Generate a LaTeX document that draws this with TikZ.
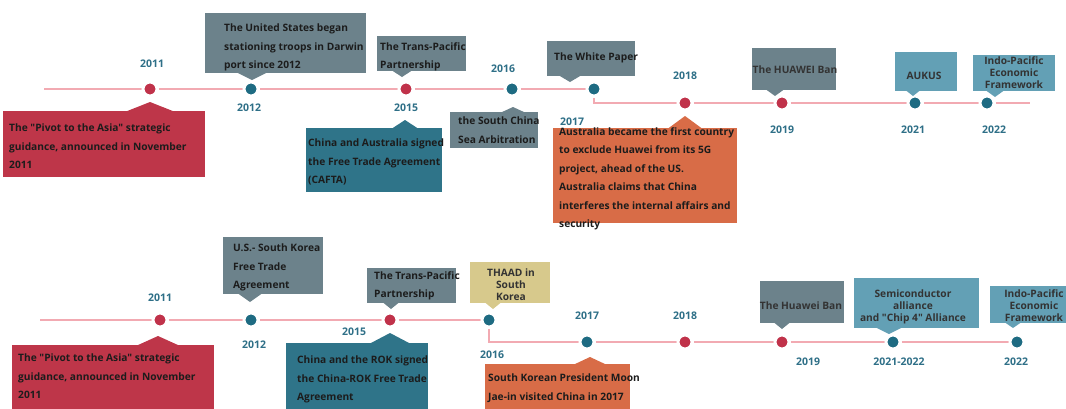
\documentclass[tikz,border=0pt]{standalone}
\usepackage{fontspec}
\newfontfamily\lblfont{Open Sans}
\usetikzlibrary{backgrounds}

\definecolor{boxRed}{HTML}{BE3649}
\definecolor{boxTeal}{HTML}{2F7489}
\definecolor{boxGrey}{HTML}{6C828B}
\definecolor{boxBlue}{HTML}{63A0B5}
\definecolor{boxKhaki}{HTML}{D7C98C}
\definecolor{boxOrange}{HTML}{D86C47}
\definecolor{dotRed}{HTML}{C0324A}
\definecolor{dotTeal}{HTML}{1E6B82}
\definecolor{lineRed}{HTML}{F2AAB2}
\definecolor{yearTeal}{HTML}{2E6F87}
\definecolor{txtDark}{HTML}{1C1C1C}
\definecolor{txtGrey}{HTML}{333333}

% callout pointer: colour, apex x, apex y, base y, half base width
\newcommand\callptr[5]{\fill[#1] ({#2-#5},#4) -- (#2,#3) -- ({#2+#5},#4) -- cycle;}

\tikzset{
  every node/.style={font=\lblfont\bfseries\fontsize{10.2}{18.5}\selectfont},
  dot/.style={circle,inner sep=0pt,minimum size=14pt,draw=white,line width=3pt},
  reddot/.style={dot,fill=dotRed},
  tealdot/.style={dot,fill=dotTeal},
  year/.style={text=yearTeal,inner sep=0pt,font=\lblfont\bfseries\fontsize{10.5}{12}\selectfont},
  callbox/.style={rectangle,inner sep=0pt,anchor=north west},
  boxtext/.style={align=left,anchor=north west,inner sep=0pt,text=txtDark},
  ctrtext/.style={align=center,inner sep=0pt,text=txtGrey,font=\lblfont\bfseries\fontsize{10.2}{12}\selectfont},
  tline/.style={draw=lineRed,line width=2.5pt}
}

\begin{document}
\begin{tikzpicture}[x=1pt,y=-1pt]
\useasboundingbox (0,0) rectangle (1066,408);
\clip (0,0) rectangle (1066,408);

% ---------------- Australia timeline ----------------
\coordinate (ts) at (44,89);
\coordinate (te) at (1030,103);
\node[reddot]  (t11) at (150,89) {};
\node[tealdot] (t12) at (251,89) {};
\node[reddot]  (t15) at (406,89) {};
\node[tealdot] (t16) at (512,89) {};
\node[tealdot] (t17) at (594,89) {};
\node[reddot]  (t18) at (685,103) {};
\node[reddot]  (t19) at (782,103) {};
\node[tealdot] (t21) at (915,103) {};
\node[tealdot] (t22) at (987,103) {};

\begin{scope}[on background layer]
  \draw[tline] (ts) -- (t11) -- (t12) -- (t15) -- (t16) -- (t17);
  \draw[tline] (t17) |- (t18);
  \draw[tline] (t18) -- (t19) -- (t21) -- (t22) -- (te);
\end{scope}

\node[year] (ty11) at (152,64)  {2011};
\node[year] (ty12) at (249,108) {2012};
\node[year] (ty15) at (406,108) {2015};
\node[year] (ty16) at (503,69)  {2016};
\node[year] (ty17) at (572,122) {2017};
\node[year] (ty18) at (685,76)  {2018};
\node[year] (ty19) at (782,130) {2019};
\node[year] (ty21) at (913,130) {2021};
\node[year] (ty22) at (994,130) {2022};

\node[callbox,fill=boxRed,minimum width=202pt,minimum height=66pt] (ta) at (3,111) {};
\callptr{boxRed}{150}{102}{111.5}{24}
\node[boxtext] (tta) at (9,124) {The "Pivot to the Asia" strategic\\guidance, announced in November\\2011};

\node[callbox,fill=boxGrey,minimum width=161pt,minimum height=60pt] (tb) at (205,13) {};
\callptr{boxGrey}{252}{80}{72.5}{15}
\node[boxtext] (ttb) at (224,24) {The United States began\\stationing troops in Darwin\\port since 2012};

\node[callbox,fill=boxGrey,minimum width=89pt,minimum height=35pt] (tc) at (377,36) {};
\callptr{boxGrey}{402}{77}{70.5}{10}
\node[boxtext] (ttc) at (380,42) {The Trans-Pacific\\Partnership};

\node[callbox,fill=boxTeal,minimum width=136pt,minimum height=64pt] (td) at (306,128) {};
\callptr{boxTeal}{405}{120}{128.5}{13}
\node[boxtext] (ttd) at (308,139) {China and Australia signed\\the Free Trade Agreement\\(CAFTA)};

\node[callbox,fill=boxGrey,minimum width=88pt,minimum height=36pt] (tf) at (450,112) {};
\callptr{boxGrey}{513}{107}{112.5}{12}
\node[boxtext] (ttf) at (458,117) {the South China\\Sea Arbitration};

\node[callbox,fill=boxGrey,minimum width=88pt,minimum height=35pt] (tg) at (547,41) {};
\callptr{boxGrey}{570}{82}{75.5}{11}
\node[boxtext] (ttg) at (554,53) {The White Paper};

\node[callbox,fill=boxOrange,minimum width=184pt,minimum height=95pt] (th) at (553,128) {};
\callptr{boxOrange}{685}{116}{128.5}{17}
\node[boxtext] (tth) at (559,127) {Australia became the first country\\to exclude Huawei from its 5G\\project, ahead of the US.\\Australia claims that China\\interferes the internal affairs and\\security};

\node[callbox,fill=boxGrey,minimum width=84pt,minimum height=42pt] (ti) at (752,48) {};
\callptr{boxGrey}{775}{96}{89.5}{9}
\node[ctrtext] (tti) at (795,70) {The HUAWEI Ban};

\node[callbox,fill=boxBlue,minimum width=62pt,minimum height=39pt] (tj) at (895,52) {};
\callptr{boxBlue}{913}{96}{90.5}{7}
\node[ctrtext] (ttj) at (924,76) {AUKUS};

\node[callbox,fill=boxBlue,minimum width=82pt,minimum height=36pt] (tk) at (973,55) {};
\callptr{boxBlue}{995}{97}{90.5}{9}
\node[ctrtext] (ttk) at (1014,73) {Indo-Pacific\\Economic\\Framework};

% ---------------- South Korea timeline ----------------
\coordinate (bs) at (40,320);
\node[reddot]  (b11) at (160,320) {};
\node[tealdot] (b12) at (251,320) {};
\node[reddot]  (b15) at (390,320) {};
\node[tealdot] (b16) at (489,320) {};
\node[tealdot] (b17) at (587,342) {};
\node[reddot]  (b18) at (685,342) {};
\node[reddot]  (b19) at (782,342) {};
\node[tealdot] (b21) at (893,342) {};
\node[tealdot] (b22) at (1017,342) {};

\begin{scope}[on background layer]
  \draw[tline] (bs) -- (b11) -- (b12) -- (b15) -- (b16);
  \draw[tline] (b16) |- (b17);
  \draw[tline] (b17) -- (b18) -- (b19) -- (b21) -- (b22);
\end{scope}

\node[year] (by11) at (160,298) {2011};
\node[year] (by12) at (254,345) {2012};
\node[year] (by15) at (354,332) {2015};
\node[year] (by16) at (492,355) {2016};
\node[year] (by17) at (587,316) {2017};
\node[year] (by18) at (685,316) {2018};
\node[year] (by19) at (808,362) {2019};
\node[year] (by21) at (899,362) {2021-2022};
\node[year] (by22) at (1016,362) {2022};

\node[callbox,fill=boxRed,minimum width=202pt,minimum height=67pt] (ba) at (12,345) {};
\callptr{boxRed}{158}{336}{345.5}{21}
\node[boxtext] (bta) at (18,354) {The "Pivot to the Asia" strategic\\guidance, announced in November\\2011};

\node[callbox,fill=boxGrey,minimum width=100pt,minimum height=57pt] (bb) at (223,237) {};
\callptr{boxGrey}{250}{302}{293.5}{12}
\node[boxtext] (btb) at (233,244) {U.S.- South Korea\\Free Trade\\Agreement};

\node[callbox,fill=boxTeal,minimum width=142pt,minimum height=69pt] (bc) at (286,343) {};
\callptr{boxTeal}{390}{333}{343.5}{20}
\node[boxtext] (btc) at (297,356) {China and the ROK signed\\the China-ROK Free Trade\\Agreement};

\node[callbox,fill=boxGrey,minimum width=89pt,minimum height=35pt] (bd) at (367,268) {};
\callptr{boxGrey}{391}{309}{302.5}{8}
\node[boxtext] (btd) at (374,271) {The Trans-Pacific\\Partnership};

\node[callbox,fill=boxKhaki,minimum width=80pt,minimum height=41pt] (be) at (470,262) {};
\callptr{boxKhaki}{493}{309}{302.5}{8}
\node[ctrtext] (bte) at (511,284.5) {THAAD in\\South\\Korea};

\node[callbox,fill=boxOrange,minimum width=145pt,minimum height=48pt] (bf) at (485,364) {};
\callptr{boxOrange}{590}{357}{364.5}{16}
\node[boxtext] (btf) at (488,374) {South Korean President Moon\\Jae-in visited China in 2017};

\node[callbox,fill=boxGrey,minimum width=84pt,minimum height=42pt] (bg) at (760,281) {};
\callptr{boxGrey}{782}{329}{322.5}{8}
\node[ctrtext] (btg) at (801,306) {The Huawei Ban};

\node[callbox,fill=boxBlue,minimum width=125pt,minimum height=50pt] (bh) at (854,278) {};
\callptr{boxBlue}{889}{334}{327.5}{13}
\node[ctrtext] (bth) at (913,307) {Semiconductor\\alliance\\and "Chip 4" Alliance};

\node[callbox,fill=boxBlue,minimum width=85pt,minimum height=37pt] (bi) at (990,286) {};
\callptr{boxBlue}{1013}{328}{322.5}{8}
\node[ctrtext] (bti) at (1034,306) {Indo-Pacific\\Economic\\Framework};

\end{tikzpicture}
\end{document}
